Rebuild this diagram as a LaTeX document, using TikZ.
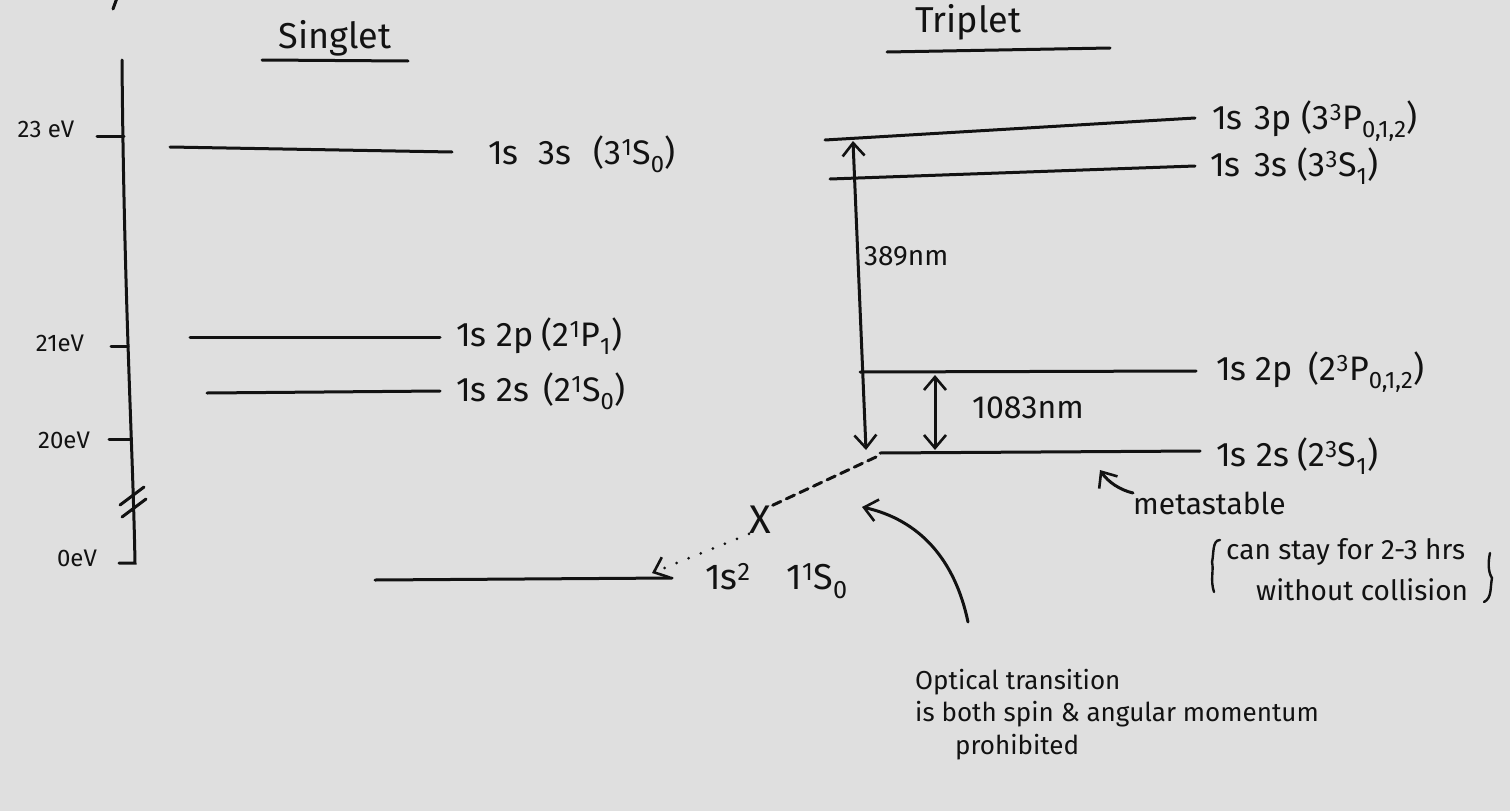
\documentclass[tikz,border=0pt]{standalone}
\usepackage{fontspec}
\setmainfont{Fira Sans}
\usetikzlibrary{arrows.meta}
\definecolor{paper}{RGB}{223,223,223}
\definecolor{ink}{RGB}{18,18,18}
\newcommand{\up}[1]{\textsuperscript{#1}}
\newcommand{\dn}[1]{\textsubscript{#1}}
\begin{document}
\begin{tikzpicture}[x=1pt,y=-1pt,
  >={Straight Barb[length=13pt,width=22pt,line width=2.6pt]},
  ink line/.style={draw=ink,line width=3pt,line cap=round},
  thin ink/.style={draw=ink,line width=2.4pt,line cap=round},
  level/.style={ink line},
  lbl/.style={text=ink,anchor=west,inner sep=0pt,font=\fontsize{34}{38}\selectfont},
  axlbl/.style={text=ink,inner sep=0pt,font=\fontsize{24}{28}\selectfont},
  note/.style={text=ink,anchor=west,inner sep=0pt,font=\fontsize{26}{30}\selectfont},
  head/.style={text=ink,inner sep=0pt,font=\fontsize{36}{40}\selectfont}]
\fill[paper] (0,0) rectangle (1510,811);
\useasboundingbox (0,0) rectangle (1510,811);

% stray mark at top left (cut-off writing)
\coordinate (m1) at (117,-2); \coordinate (m2) at (113,9);
\draw[ink line] (m1) -- (m2);

% headings
\node[head] (singlet) at (335,38) {Singlet};
\coordinate (su1) at (262,60); \coordinate (su2) at (408,61);
\draw[ink line] (su1) -- (su2);
\node[head] (triplet) at (968,22) {Triplet};
\coordinate (tu1) at (887,52); \coordinate (tu2) at (1110,48);
\draw[ink line] (tu1) -- (tu2);

% energy axis
\coordinate (axtop) at (122,60);
\coordinate (axbot) at (135,563);
\coordinate (axend) at (119,563);
\draw[ink line] (axtop) .. controls (124,300) and (133,450) .. (axbot) -- (axend);
\coordinate (b1a) at (120,505); \coordinate (b1b) at (144,487);
\coordinate (b2a) at (122,517); \coordinate (b2b) at (146,499);
\draw[ink line] (b1a) -- (b1b);
\draw[ink line] (b2a) -- (b2b);
% ticks
\coordinate (t23a) at (97,136); \coordinate (t23b) at (124,136);
\coordinate (t21a) at (111,346); \coordinate (t21b) at (128,346);
\coordinate (t20a) at (109,439); \coordinate (t20b) at (131,439);
\draw[ink line] (t23a) -- (t23b);
\draw[ink line] (t21a) -- (t21b);
\draw[ink line] (t20a) -- (t20b);
\node[axlbl] (e23) at (46,129) {23 eV};
\node[axlbl] (e21) at (60,343) {21eV};
\node[axlbl] (e20) at (64,440) {20eV};
\node[axlbl] (e0) at (77,558) {0eV};

% singlet levels
\coordinate (s3sL) at (170,147); \coordinate (s3sR) at (452,152);
\coordinate (s2pL) at (190,337); \coordinate (s2pR) at (440,337);
\coordinate (s2sL) at (207,393); \coordinate (s2sR) at (440,391);
\coordinate (gsL) at (375,580); \coordinate (gsR) at (672,578);
\draw[level] (s3sL) -- (s3sR);
\draw[level] (s2pL) -- (s2pR);
\draw[level] (s2sL) -- (s2sR);
\draw[level] (gsL) -- (gsR);
\node[lbl] (s3slab) at (488,154) {1s\hspace{20pt}3s\hspace{22pt}(3\up{1}S\dn{0})};
\node[lbl] (s2plab) at (456,336) {1s\hspace{10pt}2p\hspace{8pt}(2\up{1}P\dn{1})};
\node[lbl] (s2slab) at (456,391) {1s\hspace{10pt}2s\hspace{14pt}(2\up{1}S\dn{0})};
\node[lbl,font=\fontsize{36}{40}\selectfont] (gslab) at (705,581) {1s\up{2}\hspace{36pt}1\up{1}S\dn{0}};

% triplet levels
\coordinate (t3pL) at (825,140); \coordinate (t3pR) at (1195,118);
\coordinate (t3sL) at (830,179); \coordinate (t3sR) at (1195,166);
\coordinate (t2pL) at (860,372); \coordinate (t2pR) at (1196,371);
\coordinate (t2sL) at (880,453); \coordinate (t2sR) at (1200,451);
\draw[level] (t3pL) -- (t3pR);
\draw[level] (t3sL) -- (t3sR);
\draw[level] (t2pL) -- (t2pR);
\draw[level] (t2sL) -- (t2sR);
\node[lbl] (t3plab) at (1212,121) {1s\hspace{12pt}3p\hspace{10pt}(3\up{3}P\dn{0,1,2})};
\node[lbl] (t3slab) at (1210,166) {1s\hspace{14pt}3s\hspace{10pt}(3\up{3}S\dn{1})};
\node[lbl] (t2plab) at (1216,372) {1s 2p\hspace{16pt}(2\up{3}P\dn{0,1,2})};
\node[lbl] (t2slab) at (1216,456) {1s\hspace{10pt}2s\hspace{8pt}(2\up{3}S\dn{1})};

% 389 nm transition
\coordinate (a389t) at (853,141);
\coordinate (a389b) at (866,450);
\draw[ink line,<->] (a389t) -- (a389b);
\node[note,font=\fontsize{28}{32}\selectfont] (l389) at (864,256) {389nm};

% 1083 nm transition
\coordinate (a1083t) at (935,375);
\coordinate (a1083b) at (935,450);
\draw[ink line,<->] (a1083t) -- (a1083b);
\node[note,font=\fontsize{32}{36}\selectfont] (l1083) at (972,408) {1083nm};

% forbidden transition to ground state
\node[text=ink,inner sep=0pt,font=\fontsize{40}{40}\selectfont] (xmark) at (760,520) {X};
\coordinate (gsArrow) at (652,573);
\coordinate (t2sStart) at (876,457);
\draw[ink line,dash pattern=on 9pt off 6pt] (t2sStart) -- (xmark.north east);
\draw[ink line,line width=3pt,dash pattern=on 0pt off 13pt,->] (xmark.south west) -- (gsArrow);

% metastable
\coordinate (metaTip) at (1100,470);
\coordinate (metaTail) at (1133,493);
\draw[ink line,<-] (metaTip) .. controls (1108,482) and (1120,490) .. (metaTail);
\node[note,font=\fontsize{30}{34}\selectfont] (meta) at (1133,503) {metastable};
\node[note,font=\fontsize{28}{32}\selectfont] (stay1) at (1226,552) {can stay for 2-3 hrs};
\node[note,font=\fontsize{28}{32}\selectfont] (stay2) at (1256,590) {without collision};
% hand-drawn braces
\coordinate (lbT) at (1220,540); \coordinate (lbM) at (1212,562); \coordinate (lbB) at (1214,592);
\draw[thin ink] (lbT) .. controls (1212,540) and (1214,554) .. (lbM)
  .. controls (1214,570) and (1210,580) .. (lbB);
\coordinate (rbT) at (1490,553); \coordinate (rbM) at (1492,578); \coordinate (rbB) at (1484,602);
\draw[thin ink] (rbT) .. controls (1488,562) and (1488,572) .. (rbM)
  .. controls (1490,588) and (1492,598) .. (rbB);

% optical transition note
\coordinate (optTail) at (968,622);
\coordinate (optTip) at (862,507);
\draw[ink line,->] (optTail) .. controls (955,560) and (920,520) .. (optTip);
\node[note] (opt1) at (915,682) {Optical transition};
\node[note] (opt2) at (915,714) {is both spin \& angular momentum};
\node[note] (opt3) at (955,747) {prohibited};
\end{tikzpicture}
\end{document}
